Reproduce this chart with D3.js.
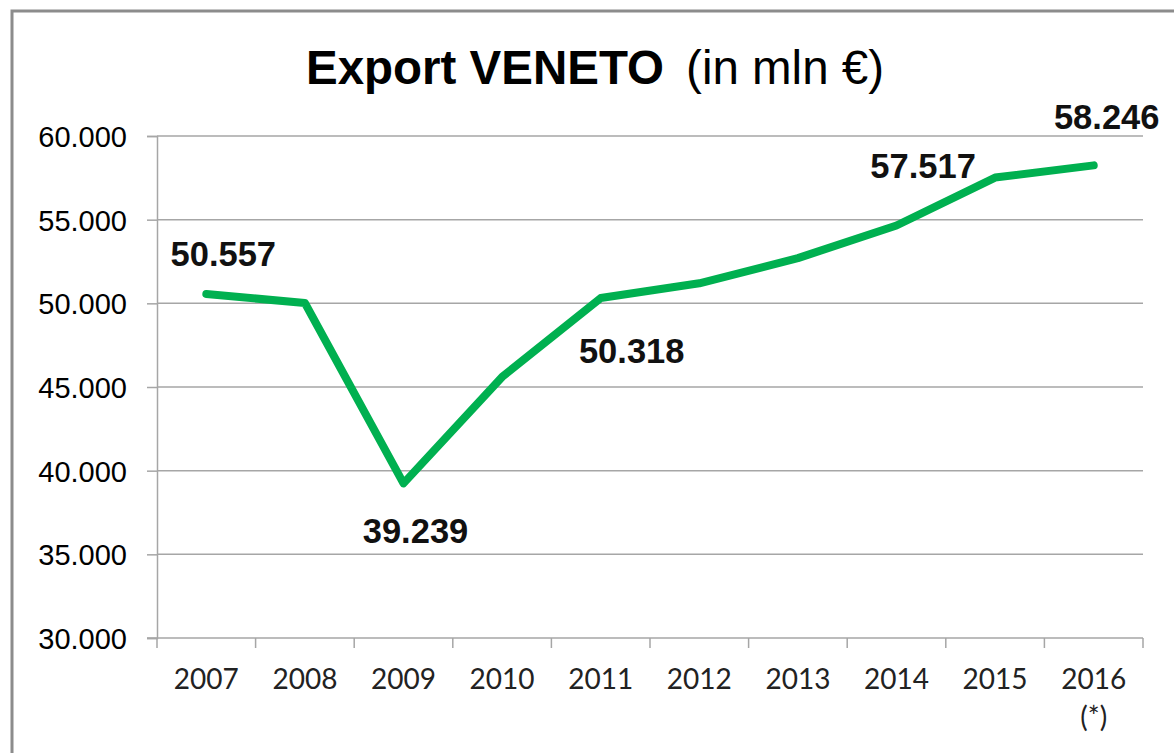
<!DOCTYPE html>
<html>
<head>
<meta charset="utf-8">
<script src="https://cdn.jsdelivr.net/npm/d3@7"></script>
<style>
  body { margin: 0; background: #fff; }
  svg { display: block; }
</style>
</head>
<body>
<svg id="chart" width="1174" height="753"></svg>
<script>

// data (mln euro)
var years    = ["2007","2008","2009","2010","2011","2012","2013","2014","2015","2016"];
var exports_ = [50557, 50020, 39239, 45600, 50318, 51200, 52700, 54650, 57517, 58246];
var yTicks   = [30000, 35000, 40000, 45000, 50000, 55000, 60000];
var labelled = ["2007","2009","2011","2015","2016"];
var yearNote = {"2016": "(*)"};

// where each value label sits relative to its point (layout only)
var labelOffset = {"2007": [17, -28], "2009": [12, 60], "2011": [31, 65],
                   "2015": [-72, 0], "2016": [13, -36]};

var it = d3.formatLocale({decimal: ",", thousands: ".", grouping: [3], currency: ["", "€"]});
var fmt = it.format(",d");

var svg = d3.select("#chart");
var plot = {left: 157, right: 1143, top: 136, bottom: 638};

// outer frame
svg.append("rect")
    .attr("x", 12).attr("y", 11)
    .attr("width", 1300).attr("height", 900)
    .attr("fill", "none")
    .attr("stroke", "#8c8c8c")
    .attr("stroke-width", 3);

// title
var title = svg.append("text")
    .attr("x", 595).attr("y", 84)
    .attr("text-anchor", "middle")
    .style("font-family", "'Liberation Sans', Arial, sans-serif")
    .style("font-size", "47.5px")
    .attr("fill", "#000");
title.append("tspan").style("font-weight", "bold").text("Export VENETO");
title.append("tspan").attr("dx", 22).text("(in mln €)");

var x = d3.scaleBand().domain(years).range([plot.left, plot.right]).padding(0);
var y = d3.scaleLinear().domain([30000, 60000]).range([plot.bottom, plot.top]);
var cx = function(d){ return x(d) + x.bandwidth() / 2; };

// gridlines
svg.append("g").selectAll("line")
    .data(yTicks.filter(function(t){ return t > 30000; }))
    .enter().append("line")
        .attr("x1", plot.left).attr("x2", plot.right)
        .attr("y1", function(d){ return y(d); })
        .attr("y2", function(d){ return y(d); })
        .attr("stroke", "#a6a6a6")
        .attr("stroke-width", 1.5);

// y axis
var yAx = svg.append("g")
    .attr("transform", "translate(" + plot.left + ",0)")
    .call(d3.axisLeft(y).tickValues(yTicks).tickSize(10).tickPadding(20).tickFormat(fmt));
yAx.selectAll("line, path").attr("stroke", "#a6a6a6").attr("stroke-width", 1.5);
yAx.selectAll("text")
    .style("font-family", "'Liberation Sans', Arial, sans-serif")
    .style("font-size", "29px")
    .attr("fill", "#000")
    .attr("dy", "0.36em");

// x axis: ticks on category boundaries
var xg = svg.append("g");
xg.append("line")
    .attr("x1", plot.left - 10).attr("x2", plot.right)
    .attr("y1", plot.bottom).attr("y2", plot.bottom)
    .attr("stroke", "#a6a6a6").attr("stroke-width", 1.5);
xg.selectAll("line.tk")
    .data(years.concat(["end"]))
    .enter().append("line")
        .attr("class", "tk")
        .attr("x1", function(d){ return d === "end" ? plot.right : x(d); })
        .attr("x2", function(d){ return d === "end" ? plot.right : x(d); })
        .attr("y1", plot.bottom).attr("y2", plot.bottom + 10)
        .attr("stroke", "#a6a6a6").attr("stroke-width", 1.5);
var xl = xg.selectAll("text.yr")
    .data(years)
    .enter().append("text")
        .attr("class", "yr")
        .attr("x", cx)
        .attr("y", 689)
        .attr("text-anchor", "middle")
        .style("font-family", "Lato, 'Open Sans', sans-serif")
        .style("font-size", "28px")
        .attr("fill", "#222");
xl.append("tspan").text(function(d){ return d; });
xl.filter(function(d){ return yearNote[d]; })
    .append("tspan")
        .attr("x", cx)
        .attr("dy", 38)
        .text(function(d){ return yearNote[d]; });

// the line
svg.append("path")
    .datum(years)
    .attr("fill", "none")
    .attr("stroke", "#00b050")
    .attr("stroke-width", 8)
    .attr("stroke-linejoin", "round")
    .attr("stroke-linecap", "round")
    .attr("d", d3.line()
        .x(function(d){ return cx(d); })
        .y(function(d, i){ return y(exports_[i]); }));

// value labels
svg.append("g").selectAll("text")
    .data(labelled)
    .enter().append("text")
        .attr("x", function(d){ return cx(d) + labelOffset[d][0]; })
        .attr("y", function(d){ return y(exports_[years.indexOf(d)]) + labelOffset[d][1]; })
        .attr("text-anchor", "middle")
        .style("font-family", "'Liberation Sans', Arial, sans-serif")
        .style("font-size", "34.5px")
        .style("font-weight", "bold")
        .attr("fill", "#111")
        .text(function(d){ return fmt(exports_[years.indexOf(d)]); });

</script>
</body>
</html>
